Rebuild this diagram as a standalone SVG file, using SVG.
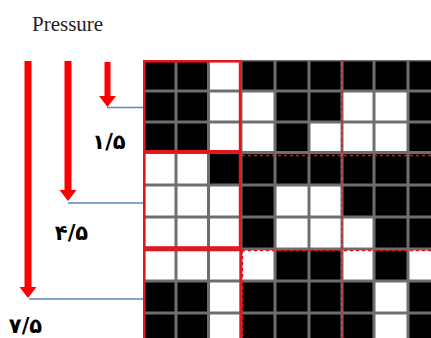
<svg xmlns="http://www.w3.org/2000/svg" width="431" height="338" viewBox="0 0 431 338">
<style>
.b{fill:#000}
.w{fill:#fff}
.blk{fill:none;stroke:#e3161d;stroke-width:2.6}
.dot{fill:none;stroke:#e3161d;stroke-width:1.4;stroke-dasharray:3 3}
.arr{stroke:#ff0000;fill:none}
.con{stroke:#5b87c5;stroke-width:1.5;fill:none}
.num{font-family:"DejaVu Sans",sans-serif;font-size:21px;font-weight:bold;fill:#000;text-anchor:middle}
</style>
<defs>
<marker id="ah" markerUnits="userSpaceOnUse" markerWidth="12" markerHeight="18" refX="0" refY="8.5" orient="auto">
<path d="M0,0 L11,8.5 L0,17 Z" fill="#ff0000"/>
</marker>
</defs>
<rect width="431" height="338" fill="#fff"/>
<text x="32" y="31" font-family="Liberation Serif, serif" font-size="21" fill="#222">Pressure</text>
<g id="grid">
<rect x="143" y="60" width="288" height="278" fill="#6e6e6e"/>
<!-- row 1 -->
<rect class="b" x="144.5" y="61.5" width="30" height="28"/>
<rect class="b" x="177.5" y="61.5" width="29.5" height="28"/>
<rect class="w" x="210" y="61.5" width="29.5" height="28"/>
<rect class="b" x="242.5" y="61.5" width="31" height="28"/>
<rect class="b" x="276.5" y="61.5" width="31" height="28"/>
<rect class="b" x="310.5" y="61.5" width="30" height="28"/>
<rect class="b" x="343.5" y="61.5" width="29" height="28"/>
<rect class="b" x="375.5" y="61.5" width="31" height="28"/>
<rect class="b" x="409.5" y="61.5" width="30" height="28"/>
<!-- row 2 -->
<rect class="b" x="144.5" y="92.5" width="30" height="28"/>
<rect class="b" x="177.5" y="92.5" width="29.5" height="28"/>
<rect class="w" x="210" y="92.5" width="29.5" height="28"/>
<rect class="w" x="242.5" y="92.5" width="31" height="28"/>
<rect class="b" x="276.5" y="92.5" width="31" height="28"/>
<rect class="b" x="310.5" y="92.5" width="30" height="28"/>
<rect class="w" x="343.5" y="92.5" width="29" height="28"/>
<rect class="w" x="375.5" y="92.5" width="31" height="28"/>
<rect class="b" x="409.5" y="92.5" width="30" height="28"/>
<!-- row 3 -->
<rect class="b" x="144.5" y="123.5" width="30" height="27.5"/>
<rect class="b" x="177.5" y="123.5" width="29.5" height="27.5"/>
<rect class="w" x="210" y="123.5" width="29.5" height="27.5"/>
<rect class="w" x="242.5" y="123.5" width="31" height="27.5"/>
<rect class="b" x="276.5" y="123.5" width="31" height="27.5"/>
<rect class="w" x="310.5" y="123.5" width="30" height="27.5"/>
<rect class="w" x="343.5" y="123.5" width="29" height="27.5"/>
<rect class="w" x="375.5" y="123.5" width="31" height="27.5"/>
<rect class="b" x="409.5" y="123.5" width="30" height="27.5"/>
<!-- row 4 -->
<rect class="w" x="144.5" y="154" width="30" height="29.5"/>
<rect class="w" x="177.5" y="154" width="29.5" height="29.5"/>
<rect class="b" x="210" y="154" width="29.5" height="29.5"/>
<rect class="b" x="242.5" y="154" width="31" height="29.5"/>
<rect class="b" x="276.5" y="154" width="31" height="29.5"/>
<rect class="b" x="310.5" y="154" width="30" height="29.5"/>
<rect class="b" x="343.5" y="154" width="29" height="29.5"/>
<rect class="b" x="375.5" y="154" width="31" height="29.5"/>
<rect class="b" x="409.5" y="154" width="30" height="29.5"/>
<!-- row 5 -->
<rect class="w" x="144.5" y="186.5" width="30" height="29"/>
<rect class="w" x="177.5" y="186.5" width="29.5" height="29"/>
<rect class="w" x="210" y="186.5" width="29.5" height="29"/>
<rect class="b" x="242.5" y="186.5" width="31" height="29"/>
<rect class="w" x="276.5" y="186.5" width="31" height="29"/>
<rect class="w" x="310.5" y="186.5" width="30" height="29"/>
<rect class="b" x="343.5" y="186.5" width="29" height="29"/>
<rect class="b" x="375.5" y="186.5" width="31" height="29"/>
<rect class="b" x="409.5" y="186.5" width="30" height="29"/>
<!-- row 6 -->
<rect class="w" x="144.5" y="218.5" width="30" height="29"/>
<rect class="w" x="177.5" y="218.5" width="29.5" height="29"/>
<rect class="w" x="210" y="218.5" width="29.5" height="29"/>
<rect class="b" x="242.5" y="218.5" width="31" height="29"/>
<rect class="w" x="276.5" y="218.5" width="31" height="29"/>
<rect class="w" x="310.5" y="218.5" width="30" height="29"/>
<rect class="w" x="343.5" y="218.5" width="29" height="29"/>
<rect class="b" x="375.5" y="218.5" width="31" height="29"/>
<rect class="b" x="409.5" y="218.5" width="30" height="29"/>
<!-- row 7 -->
<rect class="w" x="144.5" y="250.5" width="30" height="29"/>
<rect class="w" x="177.5" y="250.5" width="29.5" height="29"/>
<rect class="w" x="210" y="250.5" width="29.5" height="29"/>
<rect class="w" x="242.5" y="250.5" width="31" height="29"/>
<rect class="b" x="276.5" y="250.5" width="31" height="29"/>
<rect class="b" x="310.5" y="250.5" width="30" height="29"/>
<rect class="w" x="343.5" y="250.5" width="29" height="29"/>
<rect class="b" x="375.5" y="250.5" width="31" height="29"/>
<rect class="w" x="409.5" y="250.5" width="30" height="29"/>
<!-- row 8 -->
<rect class="b" x="144.5" y="282.5" width="30" height="29"/>
<rect class="b" x="177.5" y="282.5" width="29.5" height="29"/>
<rect class="w" x="210" y="282.5" width="29.5" height="29"/>
<rect class="b" x="242.5" y="282.5" width="31" height="29"/>
<rect class="b" x="276.5" y="282.5" width="31" height="29"/>
<rect class="b" x="310.5" y="282.5" width="30" height="29"/>
<rect class="b" x="343.5" y="282.5" width="29" height="29"/>
<rect class="w" x="375.5" y="282.5" width="31" height="29"/>
<rect class="b" x="409.5" y="282.5" width="30" height="29"/>
<!-- row 9 -->
<rect class="b" x="144.5" y="314.5" width="30" height="29"/>
<rect class="b" x="177.5" y="314.5" width="29.5" height="29"/>
<rect class="w" x="210" y="314.5" width="29.5" height="29"/>
<rect class="b" x="242.5" y="314.5" width="31" height="29"/>
<rect class="b" x="276.5" y="314.5" width="31" height="29"/>
<rect class="b" x="310.5" y="314.5" width="30" height="29"/>
<rect class="b" x="343.5" y="314.5" width="29" height="29"/>
<rect class="w" x="375.5" y="314.5" width="31" height="29"/>
<rect class="b" x="409.5" y="314.5" width="30" height="29"/>
</g>
<g id="dotted-lines">
<line class="dot" x1="342" y1="60" x2="342" y2="338"/>
<line class="dot" x1="242" y1="155.5" x2="431" y2="155.5"/>
<line class="dot" x1="242" y1="250.5" x2="431" y2="250.5"/>
<line class="dot" x1="242.5" y1="250" x2="242.5" y2="338"/>
</g>
<g id="block1"><rect class="blk" x="144.3" y="61.3" width="95.8" height="90"/></g>
<g id="block2"><rect class="blk" x="144.3" y="152.5" width="95.8" height="95"/></g>
<g id="block3"><rect class="blk" x="144.3" y="250" width="96.5" height="95"/></g>
<g id="arrows">
<line class="arr" x1="107.5" y1="62" x2="107.5" y2="96" stroke-width="6" marker-end="url(#ah)"/>
<line class="arr" x1="68" y1="61" x2="68" y2="190" stroke-width="7" marker-end="url(#ah)"/>
<line class="arr" x1="28" y1="61" x2="28" y2="287" stroke-width="7" marker-end="url(#ah)"/>
</g>
<g id="connectors">
<line class="con" x1="107" y1="107.5" x2="143" y2="107.5"/>
<line class="con" x1="68" y1="203" x2="143" y2="203"/>
<line class="con" x1="29" y1="299" x2="143" y2="299"/>
</g>
<g id="labels">
<text class="num" x="109" y="149">۱/۵</text>
<text class="num" x="71.5" y="240">۴/۵</text>
<text class="num" x="25.5" y="333">۷/۵</text>
</g>
</svg>
